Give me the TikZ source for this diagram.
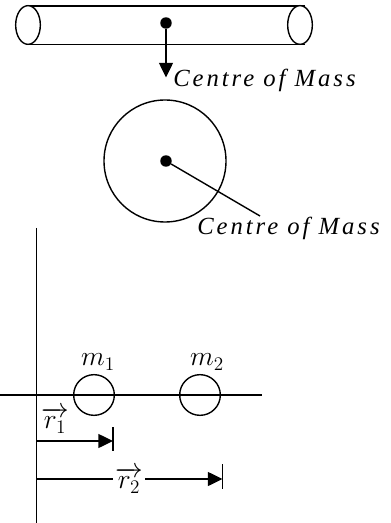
\documentclass[tikz,border=0pt]{standalone}
\usepackage{amsmath,amssymb}
\usepackage{xcolor}
\usepackage{fontspec}
\newfontfamily\labfont[LetterSpace=12]{Liberation Serif}
\usetikzlibrary{arrows.meta,positioning,calc,shapes.geometric}
\tikzset{
  ln/.style={line width=1.05pt},
  arr/.style={ln,-{Triangle[length=11pt,width=10.5pt]}},
  dot/.style={circle,fill=black,inner sep=0pt,minimum size=8.6pt},
  mass/.style={circle,draw,line width=1.05pt,inner sep=0pt,minimum size=30.5pt},
  lbl/.style={font=\fontsize{18.5}{20}\labfont\itshape,inner sep=0pt,anchor=base west},
  vec/.style={font=\fontsize{20}{22}\selectfont,inner sep=1.5pt},
}
\begin{document}
\begin{tikzpicture}[x=0.75pt,y=-0.75pt]
\useasboundingbox (0,0) rectangle (391,523);
% rod
\draw[ln] (27,6)--(305,6) (27,44.5)--(305,44.5);
\foreach \i/\x in {l/28,r/300} \node[ellipse,draw,ln,minimum width=18.5pt,minimum height=29pt,inner sep=0pt,fill=white] (end\i) at (\x,25) {};
\node[dot] (cm1) at (166,23) {};
\coordinate (tip1) at (166,77.5);
\draw[arr] (cm1)--(tip1);
\node[lbl] (lab1) at (173,87) {Centre of Mass};
% disc
\node[circle,draw,ln,minimum size=91.5pt,inner sep=0pt] (disc) at (165,161) {};
\node[dot] (cm2) at (166,161) {};
\node[lbl] (lab2) at (197,235) {Centre of Mass};
\coordinate (end2) at (260,216);
\draw[ln] (cm2)--(end2);
% axes
\coordinate (yt) at (36.5,228); \coordinate (yb) at (36.5,523);
\coordinate (xl) at (0,395); \coordinate (xr) at (262,395);
\draw[ln] (yt)--(yb) (xl)--(xr);
\foreach \i/\x/\lx in {1/94/98,2/200/207} {
  \node[vec] (ml\i) at (\lx,362) {$m_\i$};
  \node[mass] (m\i) at (\x,395) {};
}
% position vectors
\node[vec] (r1) at (55,420) {$\overrightarrow{r_1}$};
\node[vec] (r2) at (129,480) {$\overrightarrow{r_2}$};
\coordinate (a1) at (36.5,441); \coordinate (b1) at (113,441);
\coordinate (a2) at (36.5,479); \coordinate (b2) at (222.5,479);
\draw[arr] (a1)--(b1);
\draw[ln] (a2)--(r2.west|-a2);
\draw[arr] (r2.east|-a2)--(b2);
\draw[ln] (113,427)--(113,451) (222.5,464)--(222.5,489);
\end{tikzpicture}
\end{document}
